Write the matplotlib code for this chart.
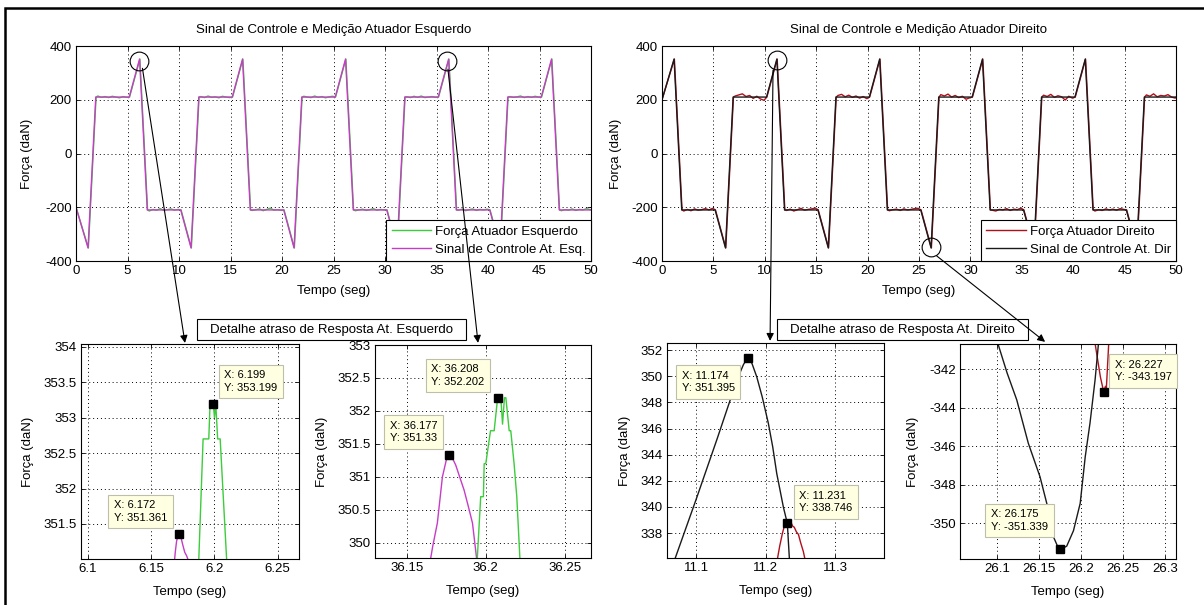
import matplotlib
matplotlib.use("Agg")
import matplotlib.pyplot as plt
from matplotlib.patches import ConnectionPatch, Rectangle
from matplotlib.ticker import FuncFormatter

plt.rcParams['font.family'] = ['Liberation Sans', 'DejaVu Sans']
plt.rcParams['axes.unicode_minus'] = False
plt.rcParams['font.size'] = 9.5

W, H = 1204, 605

# ---- sinais de controle (pontos de quebra, s / daN) ----
t_ctrl_esq = [0, 1.17, 1.92, 5.17, 6.172, 6.92, 10.17, 11.17, 11.92, 15.17, 16.17, 16.92,
              20.17, 21.17, 21.92, 25.17, 26.17, 26.92, 30.17, 31.17, 31.92, 35.17, 36.177,
              36.92, 40.17, 41.17, 41.92, 45.17, 46.17, 46.92, 50]
v_ctrl_esq = [-200, -351.4, 210, 210, 351.361, -210, -210, -351.4, 210, 210, 351.4, -210,
              -210, -351.4, 210, 210, 351.4, -210, -210, -351.4, 210, 210, 351.33,
              -210, -210, -351.4, 210, 210, 351.4, -210, -210]

t_ctrl_dir = [0, 1.174, 1.92, 5.17, 6.175, 6.92, 10.17, 11.174, 11.92, 15.17, 16.175, 16.92,
              20.17, 21.174, 21.92, 25.17, 26.175, 26.92, 30.17, 31.174, 31.92, 35.17, 36.175,
              36.92, 40.17, 41.174, 41.92, 45.17, 46.175, 46.92, 50]
v_ctrl_dir = [200, 351.4, -210, -210, -351.3, 210, 210, 351.395, -210, -210, -351.3, 210,
              210, 351.4, -210, -210, -351.339, 210, 210, 351.4, -210, -210, -351.3,
              210, 210, 351.4, -210, -210, -351.3, 210, 210]

# ---- forca medida: oscilacao nos patamares (daN), um patamar por linha ----
t_patamar = [0.2, 0.55, 0.9, 1.25, 1.6, 1.95, 2.3, 2.65, 3.0]
patamares_esq = [
    [214, 209, 212, 208, 213, 210, 207, 212, 209],
    [-214, -208, -211, -205, -212, -209, -206, -211, -208],
    [212, 208, 214, 209, 211, 207, 213, 210, 208],
    [-212, -209, -206, -213, -208, -203, -211, -209, -212],
    [213, 210, 208, 214, 209, 212, 207, 211, 213],
    [-213, -210, -207, -212, -209, -205, -211, -208, -210],
    [211, 208, 213, 209, 214, 208, 210, 212, 209],
    [-211, -207, -213, -209, -206, -212, -208, -210, -207],
    [212, 209, 211, 214, 208, 212, 209, 213, 210],
    [-213, -209, -211, -206, -212, -208, -210, -205, -209],
]
patamares_dir = [
    [-214, -208, -213, -206, -211, -209, -205, -210, -204],
    [214, 218, 222, 212, 216, 205, 213, 203, 198],
    [-212, -207, -214, -209, -204, -211, -208, -206, -203],
    [216, 220, 211, 217, 209, 214, 206, 212, 204],
    [-213, -209, -207, -212, -206, -210, -208, -205, -204],
    [219, 214, 221, 210, 216, 208, 213, 202, 207],
    [-211, -214, -208, -210, -205, -212, -207, -209, -203],
    [217, 212, 220, 209, 215, 211, 199, 213, 206],
    [-214, -209, -212, -206, -210, -207, -211, -205, -208],
    [218, 213, 222, 211, 216, 214, 219, 210, 206],
]
atraso = 0.03

# ---- detalhes ----
ctrl_p1_t = [6.1680, 6.1690, 6.1700, 6.1710, 6.172, 6.1735, 6.1750, 6.1765, 6.1780, 6.1800]
ctrl_p1_v = [350.90, 351.10, 351.25, 351.33, 351.361, 351.31, 351.20, 351.10, 351.05, 350.95]
forca_p1_t = [6.1870, 6.1880, 6.1890, 6.1900, 6.1910, 6.1955, 6.1965, 6.1975, 6.199, 6.2000,
              6.2010, 6.2025, 6.2045, 6.2060, 6.2075, 6.2090, 6.2105]
forca_p1_v = [350.7, 351.2, 351.7, 352.2, 352.7, 352.7, 353.2, 353.2, 353.199, 353.0,
              353.2, 352.7, 352.7, 352.2, 351.7, 351.2, 350.7]

ctrl_p2_t = [36.1640, 36.1665, 36.1694, 36.1726, 36.1750, 36.177, 36.1790, 36.1810, 36.1835,
             36.1863, 36.1890, 36.1916, 36.1950]
ctrl_p2_v = [349.6, 349.95, 350.3, 351.0, 351.25, 351.33, 351.28, 351.18, 351.0,
             350.8, 350.55, 350.3, 349.6]
forca_p2_t = [36.1945, 36.1968, 36.1985, 36.1990, 36.2000, 36.2030, 36.2053, 36.2075, 36.208,
              36.2095, 36.2106, 36.2118, 36.2127, 36.2148, 36.2158, 36.2179, 36.2196, 36.2217]
forca_p2_v = [349.7, 350.7, 350.7, 351.2, 351.2, 351.7, 351.7, 352.2, 352.202,
              352.2, 351.8, 352.2, 352.2, 351.7, 351.7, 351.2, 350.7, 349.7]

ctrl_p3_t = [11.060, 11.0699, 11.100, 11.130, 11.1488, 11.160, 11.168, 11.174, 11.180, 11.187,
             11.195, 11.2037, 11.2100, 11.2158, 11.2253, 11.231, 11.2339, 11.240]
ctrl_p3_v = [334.6, 336.1, 340.6, 345.2, 348.17, 349.9, 350.9, 351.395, 351.0, 349.96,
             348.4, 346.4, 344.6, 342.56, 340.0, 338.75, 336.1, 332.0]
forca_p3_t = [11.2150, 11.2200, 11.2240, 11.2270, 11.231, 11.2335, 11.2360, 11.2385, 11.2410,
              11.2440, 11.2470, 11.2500, 11.2540, 11.2580]
forca_p3_v = [335.5, 337.0, 338.0, 338.6, 338.746, 338.7, 338.85, 338.55, 338.45,
              338.1, 337.9, 337.3, 336.6, 335.6]

ctrl_p4_t = [26.095, 26.1016, 26.1120, 26.1235, 26.1373, 26.1512, 26.1611, 26.167, 26.173,
             26.175, 26.179, 26.183, 26.191, 26.199, 26.205, 26.2107, 26.2167, 26.2206, 26.225]
ctrl_p4_v = [-339.6, -340.75, -342.2, -343.6, -345.86, -347.6, -349.3, -350.7, -351.3,
             -351.339, -351.3, -351.2, -350.4, -348.98, -346.56, -344.8, -342.57, -340.75, -339.0]
forca_p4_t = [26.2150, 26.2190, 26.2230, 26.227, 26.2290, 26.2300, 26.2310, 26.2335]
forca_p4_v = [-340.2, -341.3, -342.4, -343.197, -342.9, -343.1, -342.3, -340.2]

# data tips: (x, y, alinhamento h, alinhamento v, deslocamento em px)
tips_p1 = [(6.199, 353.199, 'left', 'bottom', (11, 11)), (6.172, 351.361, 'right', 'bottom', (-12, 11))]
tips_p2 = [(36.208, 352.202, 'right', 'bottom', (-14, 11)), (36.177, 351.33, 'right', 'bottom', (-12, 12))]
tips_p3 = [(11.174, 351.395, 'right', 'top', (-13, -13)), (11.231, 338.746, 'left', 'bottom', (12, 10))]
tips_p4 = [(26.227, -343.197, 'left', 'bottom', (11, 10)), (26.175, -351.339, 'right', 'bottom', (-12, 17))]

verde = '#3ccc3c'
magenta = '#c63cc6'
vermelho = '#b0101c'
preto = '#1a1a1a'


def serie_medida(t_ctrl, v_ctrl, patamares):
    t_out, v_out = [t_ctrl[0]], [v_ctrl[0]]
    p = 0
    for i in range(1, len(t_ctrl)):
        if v_ctrl[i] == v_ctrl[i - 1] and p < len(patamares):
            for dt, v in zip(t_patamar, patamares[p]):
                t_out.append(t_ctrl[i - 1] + dt)
                v_out.append(v)
            p += 1
        t_out.append(t_ctrl[i] + atraso)
        v_out.append(v_ctrl[i])
    return t_out, v_out


def caixa(x0, y0, x1, y1):
    return [x0 / W, 1 - y1 / H, (x1 - x0) / W, (y1 - y0) / H]


fmt = FuncFormatter(lambda v, p: '%g' % v)


def estilo(ax, xlim, ylim, xt, yt, lx, ly):
    ax.set_xlim(xlim)
    ax.set_ylim(ylim)
    ax.set_xticks(xt)
    ax.set_yticks(yt)
    ax.xaxis.set_major_formatter(fmt)
    ax.yaxis.set_major_formatter(fmt)
    ax.grid(True, color='k', ls=(0, (1, 3)), lw=0.7)
    ax.tick_params(direction='in', length=3, width=0.6, top=True, right=True,
                   labelsize=9.5, pad=3)
    for s in ax.spines.values():
        s.set_linewidth(0.8)
    ax.set_xlabel('Tempo (seg)')
    ax.set_ylabel('Força (daN)')
    ax.xaxis.set_label_coords(0.5, lx)
    ax.yaxis.set_label_coords(ly, 0.5)


def data_tips(ax, tips):
    for x, y, ha, va, off in tips:
        ax.plot(x, y, 's', color='k', ms=5.5, zorder=5)
        ax.annotate('X: %g\nY: %g' % (x, y), xy=(x, y), xytext=off, textcoords='offset pixels',
                    ha=ha, va=va, multialignment='left', fontsize=8, linespacing=1.3,
                    zorder=6, annotation_clip=False,
                    bbox=dict(boxstyle='square,pad=0.5', fc='#ffffe1', ec='#bebeaa', lw=0.8))


fig = plt.figure(figsize=(W / 100, H / 100), dpi=100)

# ---- graficos principais ----
ax_esq = fig.add_axes(caixa(76, 46, 591, 261))
t_m, v_m = serie_medida(t_ctrl_esq, v_ctrl_esq, patamares_esq)
ax_esq.plot(t_m, v_m, color=verde, lw=1.0, label='Força Atuador Esquerdo')
ax_esq.plot(t_ctrl_esq, v_ctrl_esq, color=magenta, lw=1.0, label='Sinal de Controle At. Esq.')
estilo(ax_esq, (0, 50), (-400, 400), range(0, 51, 5), range(-400, 401, 200), -0.11, -0.083)
ax_esq.text(0.5, 1.074, 'Sinal de Controle e Medição Atuador Esquerdo', transform=ax_esq.transAxes,
            ha='center', va='center')

ax_dir = fig.add_axes(caixa(662, 46, 1176, 261))
t_m, v_m = serie_medida(t_ctrl_dir, v_ctrl_dir, patamares_dir)
ax_dir.plot(t_m, v_m, color=vermelho, lw=1.0, label='Força Atuador Direito')
ax_dir.plot(t_ctrl_dir, v_ctrl_dir, color=preto, lw=1.0, label='Sinal de Controle At. Dir')
estilo(ax_dir, (0, 50), (-400, 400), range(0, 51, 5), range(-400, 401, 200), -0.11, -0.078)
ax_dir.text(0.5, 1.074, 'Sinal de Controle e Medição Atuador Direito', transform=ax_dir.transAxes,
            ha='center', va='center')

for ax in (ax_esq, ax_dir):
    leg = ax.legend(loc='lower right', bbox_to_anchor=(1, 0), borderaxespad=0, fancybox=False,
                    edgecolor='k', framealpha=1, handlelength=3.0, handletextpad=0.3,
                    borderpad=0.4, labelspacing=0.45, fontsize=9.5)
    leg.get_frame().set_linewidth(0.8)

# circulos de destaque
for ax, pts in ((ax_esq, [(6.12, 345), (35.98, 343)]), (ax_dir, [(11.16, 348), (26.17, -347)])):
    for x, y in pts:
        ax.plot(x, y, 'o', ms=13.5, mfc='none', mec='k', mew=0.8, clip_on=False, zorder=4)

# ---- detalhes ----
p1 = fig.add_axes(caixa(81, 344, 299, 559))
p1.plot(ctrl_p1_t, ctrl_p1_v, color=magenta, lw=1.0)
p1.plot(forca_p1_t, forca_p1_v, color=verde, lw=1.0)
estilo(p1, (6.0945, 6.2668), (351.005, 354.04), [6.1, 6.15, 6.2, 6.25],
       [351.5, 352, 352.5, 353, 353.5, 354], -0.125, -0.216)
data_tips(p1, tips_p1)

p2 = fig.add_axes(caixa(375, 345, 591, 558))
p2.plot(ctrl_p2_t, ctrl_p2_v, color=magenta, lw=1.0)
p2.plot(forca_p2_t, forca_p2_v, color=verde, lw=1.0)
estilo(p2, (36.130, 36.2665), (349.77, 353.0), [36.15, 36.2, 36.25],
       [350, 350.5, 351, 351.5, 352, 352.5, 353], -0.125, -0.219)
data_tips(p2, tips_p2)

p3 = fig.add_axes(caixa(667, 343, 884, 558))
p3.plot(forca_p3_t, forca_p3_v, color=vermelho, lw=1.0)
p3.plot(ctrl_p3_t, ctrl_p3_v, color=preto, lw=1.0)
estilo(p3, (11.058, 11.370), (336.1, 352.54), [11.1, 11.2, 11.3],
       list(range(338, 353, 2)), -0.125, -0.166)
data_tips(p3, tips_p3)

p4 = fig.add_axes(caixa(960, 344, 1176, 559))
p4.plot(forca_p4_t, forca_p4_v, color=vermelho, lw=1.0)
p4.plot(ctrl_p4_t, ctrl_p4_v, color=preto, lw=1.0)
estilo(p4, (26.056, 26.313), (-351.87, -340.7), [26.1, 26.15, 26.2, 26.25, 26.3],
       [-350, -348, -346, -344, -342], -0.125, -0.19)
data_tips(p4, tips_p4)

# ---- setas ligando os destaques aos detalhes ----
setas = [(ax_esq, (6.45, 317), p1, (0.477, 1.005)),
         (ax_esq, (36.11, 314), p2, (0.477, 1.01)),
         (ax_dir, (10.80, 310), p3, (0.475, 1.01)),
         (ax_dir, (26.72, -381), p4, (0.394, 1.01))]
for axa, xya, axb, xyb in setas:
    con = ConnectionPatch(xyA=xya, coordsA=axa.transData, xyB=xyb, coordsB=axb.transAxes,
                          arrowstyle='-|>', mutation_scale=11, lw=0.8, color='k',
                          shrinkA=0, shrinkB=0, zorder=10)
    fig.add_artist(con)

# ---- caixas de texto ----
for x0, x1, txt in ((197, 466, 'Detalhe atraso de Resposta At. Esquerdo'),
                    (777, 1028, 'Detalhe atraso de Resposta At. Direito')):
    fig.add_artist(Rectangle((x0 / W, 1 - 340 / H), (x1 - x0) / W, 21 / H,
                             transform=fig.transFigure, fc='white', ec='k', lw=0.8, zorder=9))
    fig.text((x0 + x1) / 2 / W, 1 - 329.5 / H, txt, ha='center', va='center', zorder=11)

# moldura
fig.add_artist(Rectangle((5 / W, -0.05), 1.1, 1 - 8 / H + 0.05, transform=fig.transFigure,
                         fill=False, ec='k', lw=1.8, zorder=12))

fig.savefig('out.png', dpi=100)
